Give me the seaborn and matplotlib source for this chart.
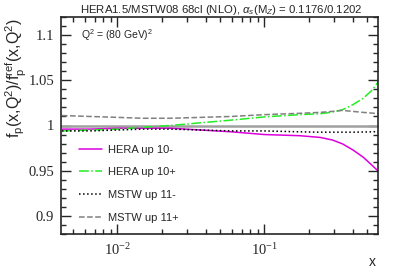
import numpy as np
import pandas as pd
import matplotlib
matplotlib.use("Agg")
import matplotlib.pyplot as plt
import matplotlib.ticker as mticker
import seaborn as sns

# x grid and ratio values
x_vals = [0.0042, 0.0065, 0.01, 0.015, 0.023, 0.037, 0.06, 0.1,
          0.175, 0.24, 0.29, 0.34, 0.4, 0.47, 0.54, 0.6]
hera_dn = [0.996, 0.996, 0.997, 0.997, 0.997, 0.995, 0.993, 0.990,
           0.9887, 0.9868, 0.984, 0.9797, 0.973, 0.965, 0.956, 0.949]
hera_up = [0.994, 0.995, 0.996, 0.998, 1.000, 1.003, 1.006, 1.0095,
           1.012, 1.013, 1.0148, 1.0174, 1.023, 1.030, 1.039, 1.049]
mstw_dn = [0.994, 0.994, 0.995, 0.996, 0.996, 0.995, 0.994, 0.994,
           0.993, 0.9926, 0.9926, 0.9926, 0.9926, 0.9928, 0.993, 0.9933]
mstw_up = [1.011, 1.010, 1.009, 1.008, 1.008, 1.009, 1.010, 1.012,
           1.0135, 1.0145, 1.0156, 1.0167, 1.0156, 1.0145, 1.0137, 1.013]

labels = ["HERA up 10-", "HERA up 10+", "MSTW up 11-", "MSTW up 11+"]
series = [hera_dn, hera_up, mstw_dn, mstw_up]

sns.set_style("ticks")
plt.rcParams['font.family'] = ['Liberation Sans', 'DejaVu Sans']
plt.rcParams['mathtext.fontset'] = 'custom'
plt.rcParams['mathtext.rm'] = 'Liberation Sans'
plt.rcParams['mathtext.it'] = 'Liberation Sans:italic'

df = pd.concat([pd.DataFrame({'x': x_vals, 'ratio': s, 'set': lab})
                for lab, s in zip(labels, series)])

fig = plt.figure(figsize=(3.99, 2.70), dpi=100)
ax = fig.add_axes([61 / 399, 1 - 234 / 270, (378.3 - 61) / 399, (234 - 17) / 270])

# reference line at 1
ax.axhline(1.0, color='#a0a0a0', lw=1.8, zorder=1)

palette = {"HERA up 10-": "#dd00dd", "HERA up 10+": "#22ee22",
           "MSTW up 11-": "black", "MSTW up 11+": "#808080"}
styles = {"HERA up 10-": "-", "HERA up 10+": "-.",
          "MSTW up 11-": ":", "MSTW up 11+": "--"}

for lab in labels:
    sub = df[df['set'] == lab]
    sns.lineplot(data=sub, x='x', y='ratio', ax=ax, color=palette[lab],
                 linestyle=styles[lab], lw=1.1, label=lab)

ax.set_xscale('log')
ax.set_xlim(0.00414, 0.596)
ax.set_ylim(0.88, 1.12)
ax.set_yticks([0.9, 0.95, 1.0, 1.05, 1.1])
ax.set_yticklabels(['0.9', '0.95', '1', '1.05', '1.1'])
ax.yaxis.set_minor_locator(mticker.MultipleLocator(0.01))
ax.xaxis.set_major_locator(mticker.FixedLocator([0.01, 0.1]))
ax.xaxis.set_minor_locator(mticker.LogLocator(subs=np.arange(2, 10)))
ax.xaxis.set_minor_formatter(mticker.NullFormatter())
ax.set_xticklabels([r'10$^{\mathregular{-2}}$', r'10$^{\mathregular{-1}}$'])

for lab in ax.get_xticklabels() + ax.get_yticklabels():
    lab.set_fontfamily('Liberation Serif')
    lab.set_fontsize(10.5)

ax.tick_params(which='both', direction='in', top=True, right=True, width=1.0)
ax.tick_params(which='major', length=7, pad=5)
ax.tick_params(which='minor', length=3.5)
for sp in ax.spines.values():
    sp.set_linewidth(1.2)

ax.set_xlabel('')
ax.set_ylabel(r'f$_{\rm p}$(x,Q$^{2}$)/f$_{\rm p}^{\rm ref}$(x,Q$^{2}$)', fontsize=11.5)
ax.yaxis.set_label_coords(-0.1, 0.72)
fig.text(372 / 399, 1 - 262 / 270, 'x', fontsize=10, ha='center', va='center')

ax.text(81 / 399, 1 - 35 / 270, r'Q$^{2}$ = (80 GeV)$^{2}$', fontsize=7.5,
        transform=fig.transFigure, va='center')
fig.text(221 / 399, 1 - 10 / 270,
         r'HERA1.5/MSTW08 68cl (NLO), $\alpha_{s}$(M$_{Z}$) = 0.1176/0.1202',
         fontsize=8.2, ha='center', va='center')

ax.legend(loc='lower left', bbox_to_anchor=(0.025, 0.005), frameon=False,
          fontsize=8, handlelength=2.1, labelspacing=1.15, handletextpad=0.55)

fig.savefig('out.png', dpi=100)
